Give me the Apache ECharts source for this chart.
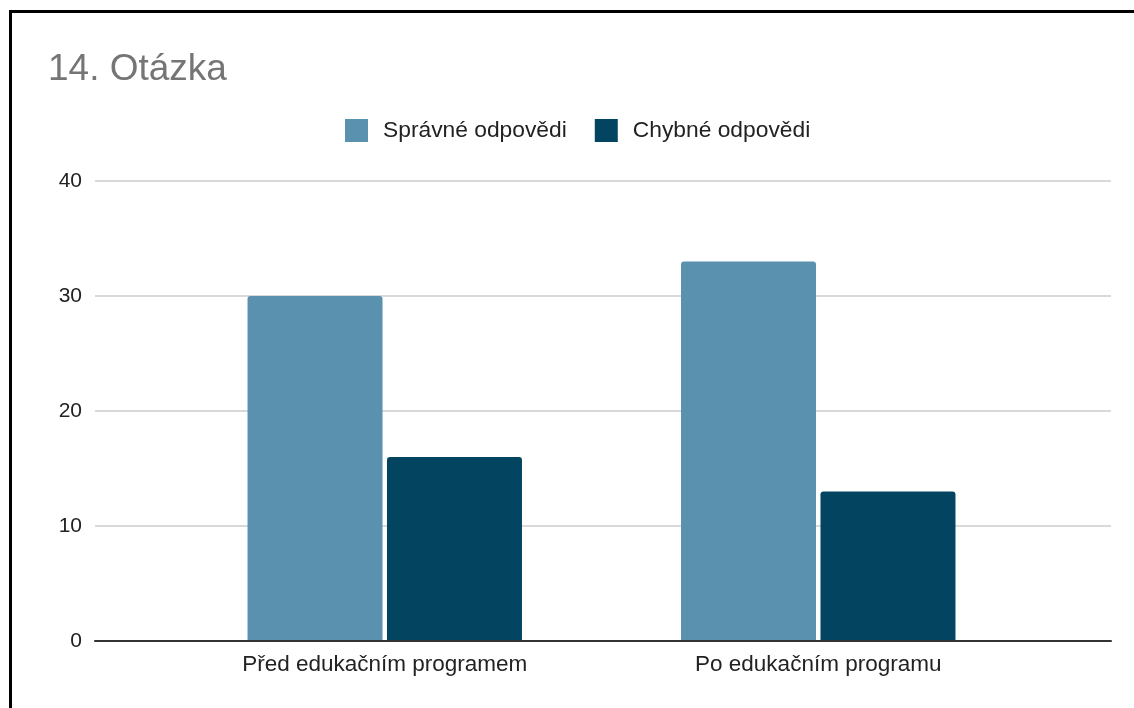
<!DOCTYPE html>
<html>
<head>
<meta charset="utf-8">
<script src="https://cdn.jsdelivr.net/npm/echarts@6/dist/echarts.min.js"></script>
<style>
  html, body { margin: 0; padding: 0; overflow: hidden; background: #fff; }
  #chart { position: absolute; left: 0; top: 0; width: 1134px; height: 708px; }
  #frame {
    position: absolute; left: 9px; top: 10px; width: 1200px; height: 800px;
    border-top: 3px solid #000; border-left: 3px solid #000;
    pointer-events: none;
  }
</style>
</head>
<body>
<div id="chart"></div>
<div id="frame"></div>
<script>
const titleText = '14. Otázka';
const categories = ['Před edukačním programem', 'Po edukačním programu'];
const seriesNames = ['Správné odpovědi', 'Chybné odpovědi'];
const correctValues = [30, 33];
const wrongValues = [16, 13];
const yTicks = [0, 10, 20, 30, 40];

const colors = ['#5a91af', '#034560'];
const font = '"Liberation Sans", Arial, sans-serif';
const yMin = yTicks[0];
const yMax = yTicks[yTicks.length - 1];
const yStep = yTicks[1] - yTicks[0];

const chart = echarts.init(document.getElementById('chart'), null, { renderer: 'canvas' });

const plotTop = 181, plotBottom = 67;

chart.setOption({
  backgroundColor: 'transparent',
  animation: false,
  color: colors,
  textStyle: { fontFamily: font },
  title: {
    text: titleText,
    left: 43,
    top: 46,
    textStyle: { fontFamily: font, fontSize: 37, fontWeight: 'normal', color: '#757575' }
  },
  legend: {
    data: seriesNames,
    left: 345,
    top: 119,
    padding: 0,
    itemWidth: 23,
    itemHeight: 23,
    itemGap: 28,
    icon: 'rect',
    textStyle: { fontFamily: font, fontSize: 22.8, color: '#222', padding: [0, 0, 0, 10] }
  },
  grid: [
    // gridlines, value labels and the baseline
    { left: 95, right: 23, top: plotTop, bottom: plotBottom },
    // bars
    { left: 168, right: 99, top: plotTop, bottom: plotBottom }
  ],
  xAxis: [
    { gridIndex: 0, type: 'category', data: categories,
      axisLine: { show: true, lineStyle: { color: '#333', width: 2 } },
      axisTick: { show: false }, axisLabel: { show: false }, splitLine: { show: false }, z: 5 },
    { gridIndex: 1, type: 'category', data: categories,
      axisLine: { show: false }, axisTick: { show: false },
      axisLabel: { fontFamily: font, fontSize: 22.5, color: '#222', margin: 12 } }
  ],
  yAxis: [
    { gridIndex: 0, type: 'value', min: yMin, max: yMax, interval: yStep,
      axisLine: { show: false }, axisTick: { show: false },
      axisLabel: { fontFamily: font, fontSize: 21, color: '#222', margin: 13 },
      splitLine: { show: true, lineStyle: { color: '#cccccc', width: 1.5 } } },
    { gridIndex: 1, type: 'value', min: yMin, max: yMax, interval: yStep, show: false,
      splitLine: { show: false } }
  ],
  series: [
    { name: seriesNames[0], type: 'bar', xAxisIndex: 1, yAxisIndex: 1,
      data: correctValues, barWidth: 135, barGap: '3.3%',
      itemStyle: { color: colors[0], borderRadius: [3, 3, 0, 0] }, z: 3 },
    { name: seriesNames[1], type: 'bar', xAxisIndex: 1, yAxisIndex: 1,
      data: wrongValues, barWidth: 135, barGap: '3.3%',
      itemStyle: { color: colors[1], borderRadius: [3, 3, 0, 0] }, z: 3 }
  ]
});
</script>
</body>
</html>
